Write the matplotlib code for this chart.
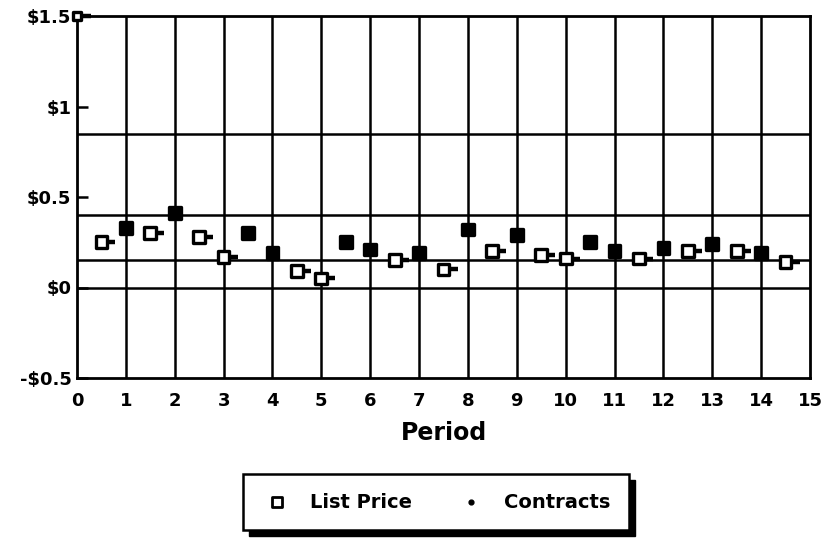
import numpy as np
import matplotlib
matplotlib.use("Agg")
import matplotlib.pyplot as plt
from matplotlib.path import Path
from matplotlib.patches import Rectangle

# ---- data ----
period = [0.0, 0.5, 1.0, 1.5, 2.0, 2.5, 3.0, 3.5, 4.0, 4.5, 5.0, 5.5, 6.0, 6.5, 7.0,
          7.5, 8.0, 8.5, 9.0, 9.5, 10.0, 10.5, 11.0, 11.5, 12.0, 12.5, 13.0,
          13.5, 14.0, 14.5]
list_price = [1.50, 0.25, 0.33, 0.30, 0.41, 0.28, 0.17, 0.30, 0.19, 0.09, 0.05, 0.25,
              0.21, 0.15, 0.19, 0.10, 0.32, 0.20, 0.29, 0.18, 0.16, 0.25, 0.20,
              0.16, 0.22, 0.20, 0.24, 0.20, 0.19, 0.14]
nan = np.nan
contracts = [1.50, 0.25, nan, 0.30, nan, 0.28, 0.17, nan, nan, 0.09, 0.05, nan,
             nan, 0.15, nan, 0.10, nan, 0.20, nan, 0.18, 0.16, nan, nan,
             0.16, nan, 0.20, nan, 0.20, nan, 0.14]
ref_lines = [0.85, 0.40, 0.15, 0.0]
y_ticks = [1.5, 1.0, 0.5, 0.0, -0.5]
y_tick_labels = ["$1.5", "$1", "$0.5", "$0", "-$0.5"]
x_ticks = list(range(0, 16))
series_names = ["List Price", "Contracts"]

plt.rcParams['font.family'] = ['DejaVu Sans']
plt.rcParams['font.weight'] = 'bold'

fig = plt.figure(figsize=(8.22, 5.43), dpi=100)
ax = fig.add_axes([77/822, 1-378/543, (810-77)/822, (378-16)/543])
ax.set_xlim(0, 15)
ax.set_ylim(-0.5, 1.5)

for s in ax.spines.values():
    s.set_linewidth(2)
    s.set_color('black')

for x in x_ticks[1:-1]:
    ax.axvline(x, color='black', lw=1.8, zorder=1)
for y in ref_lines:
    ax.axhline(y, color='black', lw=1.8, zorder=1)

ax.set_yticks(y_ticks)
ax.set_yticklabels(y_tick_labels, fontsize=13, fontweight='heavy')
ax.set_xticks(x_ticks)
ax.set_xticklabels([str(v) for v in x_ticks], fontsize=13, fontweight='heavy')
ax.tick_params(axis='y', direction='in', length=8, width=1.8, pad=4)
ax.tick_params(axis='x', length=0, pad=10)
ax.set_xlabel("Period", fontsize=17, fontweight='heavy', labelpad=8)

# dash marker to the right of the point
dash = Path([(0.35, 0), (1.0, 0)], [Path.MOVETO, Path.LINETO])

lp = np.array(list_price)
ct = np.array(contracts)
faces = ['white' if not np.isnan(c) else 'black' for c in ct]
sizes = [30 if p == 0 else 72 for p in period]
ax.scatter(period, lp, marker='s', s=sizes, facecolors=faces, edgecolors='black',
           linewidths=2.4, zorder=4, clip_on=False)
ax.plot(period, ct, linestyle='none', marker=dash, markersize=20,
        markeredgewidth=3.2, color='black', zorder=3, clip_on=False)

# legend
h1 = ax.scatter([], [], marker='s', s=45, facecolors='white', edgecolors='black', linewidths=2)
h2 = ax.scatter([], [], marker='o', s=12, color='black')
leg = fig.legend([h1, h2], series_names, loc='center',
                 bbox_to_anchor=(436/822, 41/543), ncol=2, frameon=True,
                 fancybox=False, edgecolor='black', facecolor='white', framealpha=1,
                 prop={'size': 14, 'weight': 'heavy'},
                 borderpad=0.95, columnspacing=2.2, handletextpad=0.9, handlelength=1.6)
leg.get_frame().set_linewidth(1.8)

fig.canvas.draw()
bb = leg.get_window_extent().transformed(fig.transFigure.inverted())
off_x, off_y = 6/822, 6/543
shadow = Rectangle((bb.x0 + off_x, bb.y0 - off_y), bb.width, bb.height,
                   transform=fig.transFigure, color='black', zorder=0)
fig.patches.append(shadow)
leg.set_zorder(5)

fig.savefig("out.png", dpi=100)
